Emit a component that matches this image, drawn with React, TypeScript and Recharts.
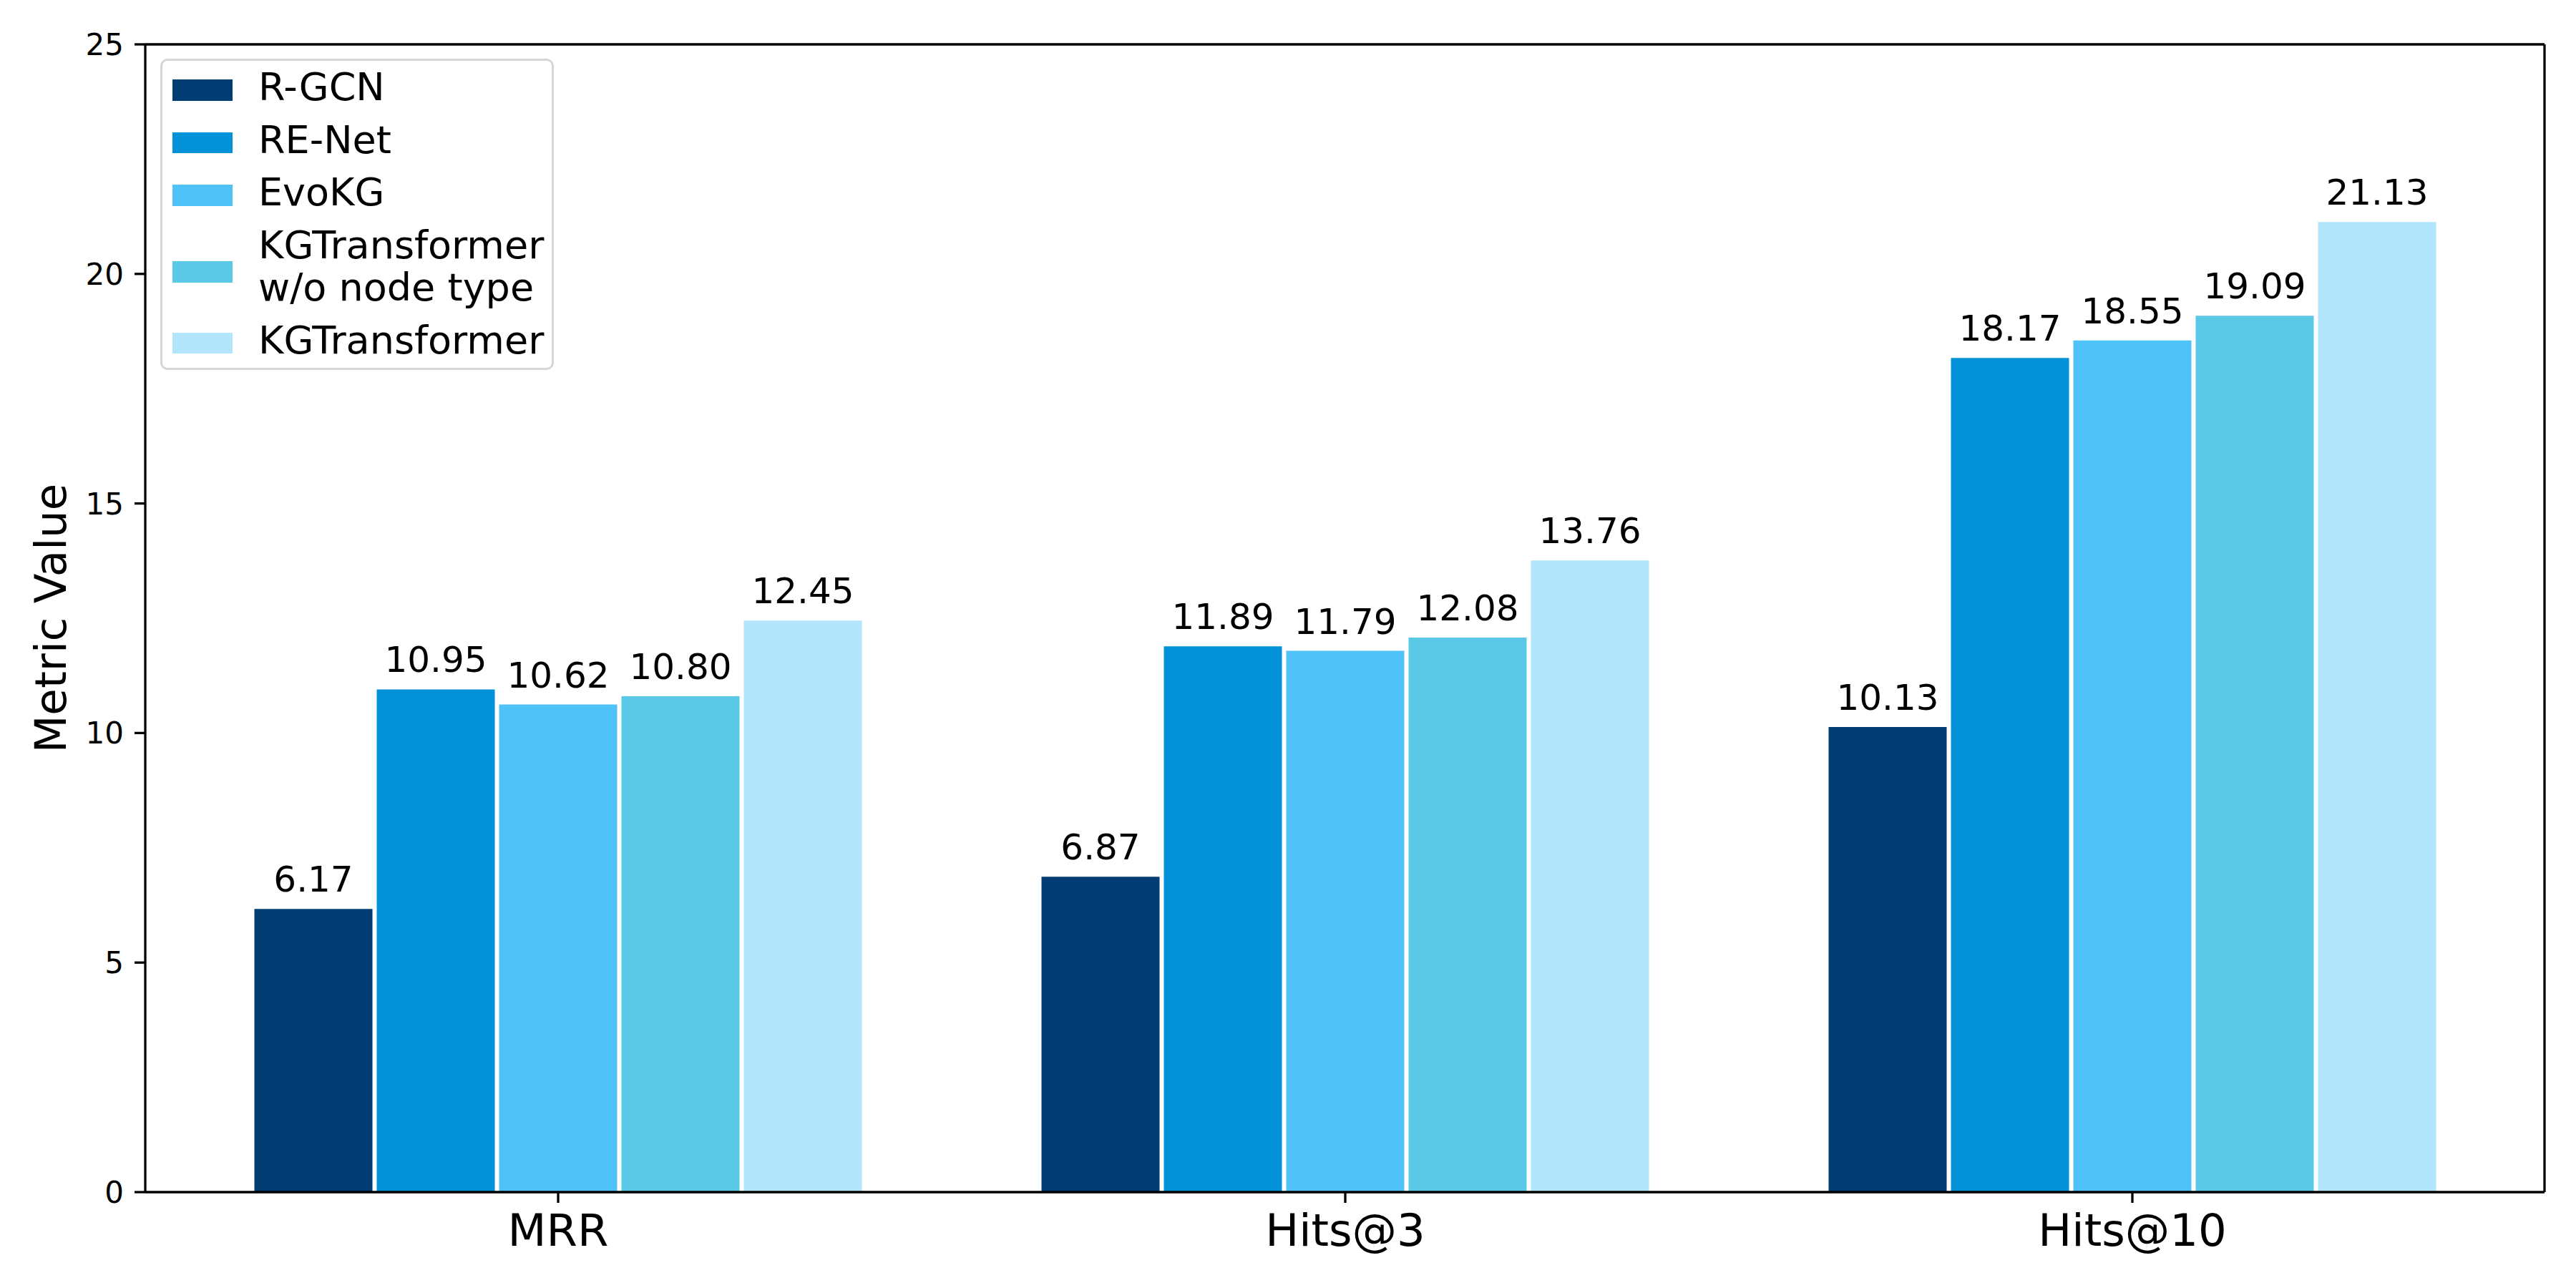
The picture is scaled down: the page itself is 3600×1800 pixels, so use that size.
import { BarChart, Bar, XAxis, YAxis, Legend, LabelList } from "recharts";

const metrics = ["MRR", "Hits@3", "Hits@10"];
const models = ["R-GCN", "RE-Net", "EvoKG", "KGTransformer\nw/o node type", "KGTransformer"];
const colors = ["#023E73", "#0391D7", "#4FC2F8", "#5AC9E8", "#B3E5FC"];

const rgcn = [6.17, 6.87, 10.13];
const renet = [10.95, 11.89, 18.17];
const evokg = [10.62, 11.79, 18.55];
const kgtNoType = [10.8, 12.08, 19.09];
const kgt = [12.45, 13.76, 21.13];

const yTicks = [0, 5, 10, 15, 20, 25];

const series = [rgcn, renet, evokg, kgtNoType, kgt];
const keys = ["m0", "m1", "m2", "m3", "m4"];

const rows = metrics.map((metric, i) => {
  const row: Record<string, string | number> = { metric };
  series.forEach((s, j) => {
    row[keys[j]] = s[i];
  });
  return row;
});

const FONT = "DejaVu Sans, sans-serif";

function LegendBox({ payload }: any) {
  // keep the order the bars were declared in
  const items = [...(payload || [])].sort(
    (a: any, b: any) => models.indexOf(a.value) - models.indexOf(b.value)
  );
  return (
    <div
      style={{
        boxSizing: "border-box",
        width: 550,
        height: 435,
        border: "3px solid #d6d6d6",
        borderRadius: 10,
        background: "rgba(255,255,255,0.8)",
        padding: "7px 14px 0 14px",
        fontFamily: FONT,
        fontSize: 54,
        lineHeight: "59.5px",
        color: "#000",
      }}
    >
      {items.map((entry: any, i: number) => {
        const multi = String(entry.value).includes("\n");
        return (
          <div
            key={i}
            style={{ display: "flex", alignItems: "center", marginBottom: 14 }}
          >
            <div
              style={{
                width: 84,
                height: 29.5,
                background: entry.color,
                flexShrink: 0,
                transform: `translateY(${multi ? 8 : 4}px)`,
              }}
            />
            <div style={{ marginLeft: 36, whiteSpace: "pre" }}>{entry.value}</div>
          </div>
        );
      })}
    </div>
  );
}

function YLabel({ viewBox }: any) {
  const x = viewBox.x + 92;
  const y = viewBox.y + viewBox.height / 2;
  return (
    <text
      x={x}
      y={y}
      transform={`rotate(-90, ${x}, ${y})`}
      textAnchor="middle"
      fontFamily={FONT}
      fontSize={61}
      fill="#000"
    >
      Metric Value
    </text>
  );
}

export default function App() {
  return (
    <div
      style={{
        position: "absolute",
        left: 0,
        top: 0,
        width: 3600,
        height: 1800,
        background: "#fff",
      }}
    >
      <BarChart
        width={3600}
        height={1800}
        data={rows}
        margin={{ top: 61, right: 43, bottom: 0, left: 0 }}
        barCategoryGap={125.5}
        barGap={6}
      >
        {keys.map((k, j) => (
          <Bar
            key={k}
            dataKey={k}
            name={models[j]}
            fill={colors[j]}
            isAnimationActive={false}
          >
            <LabelList
              dataKey={k}
              position="top"
              offset={24}
              formatter={(v: any) => Number(v).toFixed(2)}
              style={{ fontFamily: FONT, fontSize: 50, fill: "#000" }}
            />
          </Bar>
        ))}
        <XAxis
          dataKey="metric"
          height={134}
          padding={{ left: 27, right: 26 }}
          axisLine={{ stroke: "#000", strokeWidth: 3.3 }}
          tickLine={{ stroke: "#000", strokeWidth: 3.3 }}
          tickSize={15}
          tickMargin={16}
          tick={{ fontFamily: FONT, fontSize: 62.5, fill: "#000" }}
          interval={0}
        />
        <XAxis
          xAxisId="top"
          dataKey="metric"
          orientation="top"
          height={1}
          tick={false}
          tickLine={false}
          axisLine={{ stroke: "#000", strokeWidth: 3.3 }}
        />
        <YAxis
          width={203}
          domain={[0, 25]}
          ticks={yTicks}
          interval={0}
          axisLine={{ stroke: "#000", strokeWidth: 3.3 }}
          tickLine={{ stroke: "#000", strokeWidth: 3.3 }}
          tickSize={15}
          tickMargin={15}
          tick={{ fontFamily: FONT, fontSize: 42, fill: "#000" }}
          label={<YLabel />}
        />
        <YAxis
          yAxisId="right"
          orientation="right"
          width={1}
          domain={[0, 25]}
          tick={false}
          tickLine={false}
          axisLine={{ stroke: "#000", strokeWidth: 3.3 }}
        />
        <Legend
          layout="horizontal"
          verticalAlign="middle"
          align="center"
          content={<LegendBox />}
          wrapperStyle={{ left: 224, top: 82, width: 550, height: 435 }}
        />
      </BarChart>
    </div>
  );
}
